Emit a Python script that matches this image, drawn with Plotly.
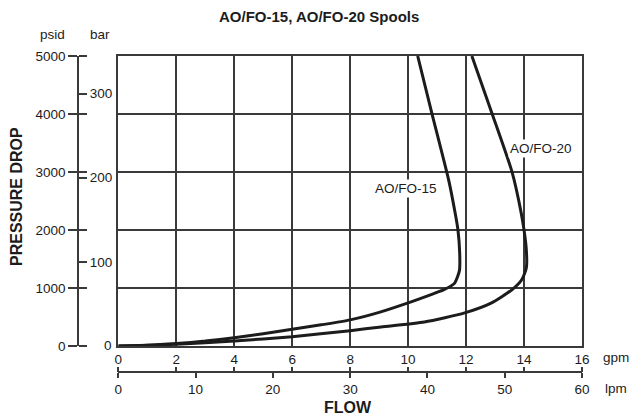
import plotly.graph_objects as go

# ---- data ----
gpm_15 = [0, 1, 2, 3, 4, 5, 6, 7, 8, 9, 10, 10.7, 11.22, 11.6, 11.77, 11.78, 11.72, 11.62, 11.4, 10.82, 10.33]
psi_15 = [0, 12, 42, 85, 143, 210, 288, 365, 450, 580, 744, 870, 966, 1080, 1300, 1600, 2000, 2300, 2860, 4012, 5000]
gpm_20 = [0, 2, 4, 6, 8, 9.07, 10.56, 11.95, 12.88, 13.58, 13.92, 14.08, 14.08, 14.0, 13.9, 13.58, 12.88, 12.2]
psi_20 = [0, 30, 86, 160, 264, 329, 415, 571, 744, 969, 1142, 1350, 1650, 2000, 2300, 3010, 4031, 5000]

gpm_ticks = [0, 2, 4, 6, 8, 10, 12, 14, 16]
lpm_ticks = [0, 10, 20, 30, 40, 50, 60]
psi_ticks = [0, 1000, 2000, 3000, 4000, 5000]
bar_ticks = [100, 200, 300]
labels = ["AO/FO-15", "AO/FO-20"]
label_pos = [(9.93, 2724), (14.6, 3397)]

# ---- geometry helpers ----
W, H = 630, 418
ML, MR, MT, MB = 20, 48, 56, 10
PW, PH = W - ML - MR, H - MT - MB
def px(x):
    return (x - ML) / PW
def py(y):
    return (H - MB - y) / PH

FONT = "Liberation Sans, Arial, sans-serif"
INK = "#1c1c1c"
GRID = "#3a3a3a"
FS = 13.5

fig = go.Figure()
for gx, gy in [(gpm_15, psi_15), (gpm_20, psi_20)]:
    fig.add_trace(go.Scatter(x=gx, y=gy, mode="lines", line=dict(color=INK, width=3, shape="spline", smoothing=0.6),
                             showlegend=False, hoverinfo="skip", cliponaxis=True))
# dummy traces so all axes render
for xa, ya in [("x", "y2"), ("x", "y3"), ("x", "y4"), ("x2", "y"), ("x3", "y")]:
    fig.add_trace(go.Scatter(x=[None], y=[None], xaxis=xa, yaxis=ya, showlegend=False, hoverinfo="skip"))

xdom = [px(118.3), 1]
ydom = [py(346), 1]
psi_max = 5000
bar_max = psi_max / 14.5038

fig.update_layout(
    width=W, height=H, margin=dict(l=ML, r=MR, t=MT, b=MB, autoexpand=False),
    paper_bgcolor="white", plot_bgcolor="white",
    font=dict(family=FONT, size=FS, color=INK),
    xaxis=dict(domain=xdom, range=[0, 16], tickvals=gpm_ticks, showgrid=True, gridcolor=GRID, gridwidth=1.5,
               showline=True, mirror=True, linecolor=GRID, linewidth=1.5, ticks="", zeroline=False,
               tickfont=dict(size=FS, color=INK), anchor="y", automargin=False),
    yaxis=dict(domain=ydom, range=[0, psi_max], tickvals=psi_ticks, showgrid=True, gridcolor=GRID, gridwidth=1.5,
               showline=True, mirror=True, linecolor=GRID, linewidth=1.5, ticks="", zeroline=False,
               showticklabels=False, anchor="x", automargin=False),
    yaxis2=dict(overlaying="y", anchor="free", position=px(78), side="left", range=[0, psi_max],
                tickvals=psi_ticks, ticks="outside", ticklen=9, tickwidth=1.5, tickcolor=GRID,
                showline=True, linecolor=GRID, linewidth=1.5, showgrid=False, zeroline=False,
                tickfont=dict(size=FS, color=INK), automargin=False),
    yaxis3=dict(overlaying="y", anchor="free", position=px(78), side="right", range=[0, psi_max],
                tickvals=psi_ticks, ticks="outside", ticklen=8, tickwidth=1.5, tickcolor=GRID,
                showline=False, showgrid=False, zeroline=False, showticklabels=False, automargin=False),
    yaxis4=dict(overlaying="y", anchor="free", position=px(78), side="right", range=[0, bar_max],
                tickvals=bar_ticks, ticks="outside", ticklen=8, tickwidth=1.5, tickcolor=GRID,
                showline=False, showgrid=False, zeroline=False, tickfont=dict(size=FS, color=INK),
                automargin=False),
    xaxis2=dict(overlaying="x", anchor="free", position=py(372), side="bottom", range=[0, 60],
                tickvals=lpm_ticks, ticks="outside", ticklen=5, tickwidth=1.5, tickcolor=GRID,
                showline=True, linecolor=GRID, linewidth=1.5, showgrid=False, zeroline=False,
                tickfont=dict(size=FS, color=INK), automargin=False),
    xaxis3=dict(overlaying="x", anchor="free", position=py(372), side="top", range=[0, 16],
                tickvals=gpm_ticks, ticks="outside", ticklen=5, tickwidth=1.5, tickcolor=GRID,
                showline=False, showgrid=False, zeroline=False, showticklabels=False, automargin=False),
)

ann = []
for t, (gx, gy) in zip(labels, label_pos):
    ann.append(dict(x=gx, y=gy, xref="x", yref="y", text=t, showarrow=False, bgcolor="white",
                    font=dict(size=FS, color=INK), borderpad=1))
def pann(text, x, y, size=FS, bold=False, angle=0):
    ann.append(dict(x=px(x), y=py(y), xref="paper", yref="paper", text=f"<b>{text}</b>" if bold else text,
                    showarrow=False, textangle=angle, font=dict(size=size, color=INK),
                    xanchor="center", yanchor="middle", borderpad=0))
pann("AO/FO-15, AO/FO-20 Spools", 319, 17, size=15, bold=True)
pann("psid", 52, 34)
pann("bar", 100, 34)
pann("0", 108, 345)
pann("gpm", 616, 357)
pann("lpm", 616, 388)
pann("FLOW", 348, 407, size=16, bold=True)
pann("PRESSURE DROP", 17, 197, size=16, bold=True, angle=-90)
fig.update_layout(annotations=ann)

fig.write_html("out.html")
